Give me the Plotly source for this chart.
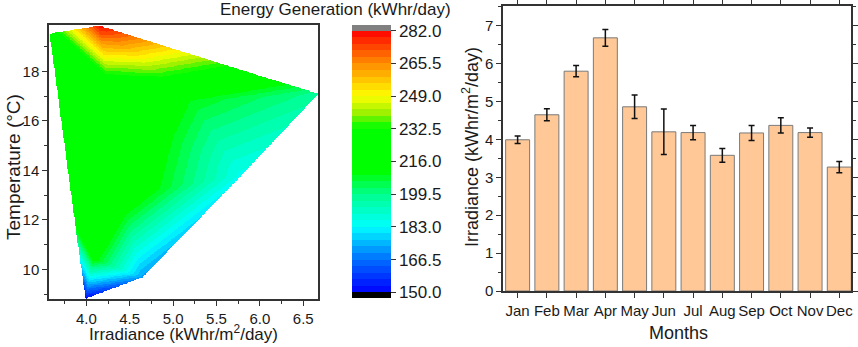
import numpy as np
import plotly.graph_objects as go

# ---------------- data ----------------
months = ["Jan", "Feb", "Mar", "Apr", "May", "Jun", "Jul", "Aug", "Sep", "Oct", "Nov", "Dec"]
irradiance = [3.99, 4.65, 5.80, 6.68, 4.86, 4.20, 4.18, 3.58, 4.17, 4.37, 4.18, 3.27]
irradiance_err = [0.10, 0.16, 0.15, 0.22, 0.31, 0.60, 0.19, 0.18, 0.20, 0.20, 0.12, 0.15]

# scattered points used for the contour (irradiance, temperature, energy)
contour_irr = [3.99, 4.65, 5.78, 6.67, 4.82, 4.23, 4.15, 3.577, 5.21, 4.40, 4.08, 3.865]
contour_temp = [8.83, 9.70, 13.80, 17.10, 15.70, 17.87, 19.85, 19.53, 16.80, 13.00, 10.45, 12.00]
contour_energy = [151, 172, 185, 198, 215, 232, 281, 221, 209, 221, 214, 217]

cbar_ticks = [150.0, 166.5, 183.0, 199.5, 216.0, 232.5, 249.0, 265.5, 282.0]

W, H = 858, 347
FONT = "Liberation Sans, Arial, sans-serif"
TXT = "#1a1a1a"

# ---------------- triangulation (Bowyer-Watson) ----------------
xr = (3.57, 6.67)
yr = (8.80, 19.88)
px = (np.array(contour_irr) - xr[0]) / (xr[1] - xr[0])
py = (np.array(contour_temp) - yr[0]) / (yr[1] - yr[0])
N = len(px)
P = np.vstack([np.column_stack([px, py]), [[-500, -500], [500, -500], [0, 800]]])


def in_circ(t, p):
    a, b, c = P[t[0]], P[t[1]], P[t[2]]
    d = 2 * (a[0] * (b[1] - c[1]) + b[0] * (c[1] - a[1]) + c[0] * (a[1] - b[1]))
    ux = ((a @ a) * (b[1] - c[1]) + (b @ b) * (c[1] - a[1]) + (c @ c) * (a[1] - b[1])) / d
    uy = ((a @ a) * (c[0] - b[0]) + (b @ b) * (a[0] - c[0]) + (c @ c) * (b[0] - a[0])) / d
    return (p[0] - ux) ** 2 + (p[1] - uy) ** 2 < (a[0] - ux) ** 2 + (a[1] - uy) ** 2


tris = [(N, N + 1, N + 2)]
for i in range(N):
    p = P[i]
    bad = [t for t in tris if in_circ(t, p)]
    cnt = {}
    for t in bad:
        for e in ((t[0], t[1]), (t[1], t[2]), (t[2], t[0])):
            k = tuple(sorted(e))
            cnt[k] = cnt.get(k, 0) + 1
    tris = [t for t in tris if t not in bad]
    for e, c in cnt.items():
        if c == 1:
            tris.append((e[0], e[1], i))
tris = [t for t in tris if max(t) < N]

# ---------------- linear interpolation on grid ----------------
nx, ny = 460, 460
gx = np.linspace(xr[0], xr[1], nx)
gy = np.linspace(yr[0], yr[1], ny)
GX, GY = np.meshgrid((gx - xr[0]) / (xr[1] - xr[0]), (gy - yr[0]) / (yr[1] - yr[0]))
Z = np.full(GX.shape, np.nan)
E = np.array(contour_energy, dtype=float)
for t in tris:
    (x1, y1), (x2, y2), (x3, y3) = P[t[0]], P[t[1]], P[t[2]]
    det = (y2 - y3) * (x1 - x3) + (x3 - x2) * (y1 - y3)
    l1 = ((y2 - y3) * (GX - x3) + (x3 - x2) * (GY - y3)) / det
    l2 = ((y3 - y1) * (GX - x3) + (x1 - x3) * (GY - y3)) / det
    l3 = 1 - l1 - l2
    m = (l1 >= -1e-9) & (l2 >= -1e-9) & (l3 >= -1e-9)
    Z[m] = l1[m] * E[t[0]] + l2[m] * E[t[1]] + l3[m] * E[t[2]]

# ---------------- stepped rainbow colour scale ----------------
lo_v, hi_v = 150.0, 282.0
nb = 40
step = (hi_v - lo_v) / nb
zmin, zmax = lo_v - 2.9, hi_v + 2.9
Zq = lo_v + (np.clip(np.floor((Z - lo_v) / step), 0, nb - 1) + 0.5) * step
Zq = np.where(np.isnan(Z), np.nan, Zq)

cv = [150, 166.5, 183, 199.5, 211, 233, 240, 249, 265.5, 282]
cc = [(0, 0, 255), (0, 110, 255), (0, 255, 255), (0, 255, 140), (0, 255, 0),
      (0, 255, 0), (150, 240, 0), (255, 255, 0), (255, 140, 0), (255, 0, 0)]


def col(v):
    r = np.interp(v, cv, [c[0] for c in cc])
    g = np.interp(v, cv, [c[1] for c in cc])
    b = np.interp(v, cv, [c[2] for c in cc])
    return f"rgb({int(round(r))},{int(round(g))},{int(round(b))})"


bounds = [round((lo_v + k * step - zmin) / (zmax - zmin), 8) for k in range(nb + 1)]
cs = [[0.0, "rgb(0,0,0)"], [bounds[0], "rgb(0,0,0)"]]
for k in range(nb):
    c = col(lo_v + (k + 0.5) * step)
    cs += [[bounds[k], c], [bounds[k + 1], c]]
cs += [[bounds[-1], "rgb(128,128,128)"], [1.0, "rgb(128,128,128)"]]

# ---------------- figure ----------------
fig = go.Figure()


def dom_x(a, b):
    return [a / W, b / W]


def dom_y(top, bot):
    return [1 - bot / H, 1 - top / H]


fig.add_trace(go.Heatmap(
    x=gx, y=gy, z=Zq, colorscale=cs, zmin=zmin, zmax=zmax,
    xaxis="x", yaxis="y", hoverongaps=False,
    colorbar=dict(
        x=352 / W, xanchor="left", xpad=0, ypad=0,
        y=1 - (25 + 298) / 2 / H, yanchor="middle",
        len=273, lenmode="pixels", thickness=39, thicknessmode="pixels",
        outlinewidth=0,
        tickvals=cbar_ticks, ticktext=[f"{v:.1f}" for v in cbar_ticks],
        ticks="outside", ticklen=5, tickcolor="#333",
        tickfont=dict(family=FONT, size=17, color=TXT),
    ),
))

fig.add_trace(go.Bar(
    x=months, y=irradiance, xaxis="x2", yaxis="y2",
    marker=dict(color="#FFC896", line=dict(color="#7a7a7a", width=1)),
    width=0.82,
    error_y=dict(type="data", array=irradiance_err, color="#111", thickness=1.5, width=3),
))

axis_common = dict(
    showline=True, linecolor="#333", linewidth=1.5, ticks="outside", ticklen=5,
    tickcolor="#333", tickwidth=1.2, showgrid=False, zeroline=False, automargin=False,
    tickfont=dict(family=FONT, size=15, color=TXT),
)

fig.update_layout(
    width=W, height=H, margin=dict(l=0, r=0, t=0, b=0, autoexpand=False),
    paper_bgcolor="white", plot_bgcolor="white", showlegend=False,
    font=dict(family=FONT, color=TXT),
    xaxis=dict(domain=dom_x(49, 318), range=list(xr), anchor="y", mirror=True,
               tickvals=[4.0, 4.5, 5.0, 5.5, 6.0, 6.5], tickformat=".1f",
               minor=dict(dtick=0.25, tick0=3.5, ticklen=3, ticks="outside", tickcolor="#333"),
               **axis_common),
    yaxis=dict(domain=dom_y(25, 299), range=list(yr), anchor="x", mirror=True,
               tickvals=[10, 12, 14, 16, 18],
               minor=dict(dtick=1, ticklen=3, ticks="outside", tickcolor="#333"),
               **axis_common),
    xaxis2=dict(domain=dom_x(503, 851), range=[-0.5, 11.4], anchor="y2", mirror="ticks",
                type="category", **axis_common),
    yaxis2=dict(domain=dom_y(6, 291), range=[0, 7.52], anchor="x2", mirror="ticks",
                dtick=1, minor=dict(dtick=0.5, ticklen=3, ticks="outside", tickcolor="#333"),
                **axis_common),
    annotations=[
        dict(text="Energy Generation (kWhr/day)", x=335 / W, y=1 - 9 / H, xref="paper", yref="paper",
             showarrow=False, font=dict(family=FONT, size=17, color=TXT), xanchor="center", yanchor="middle"),
        dict(text="Irradiance (kWhr/m<sup>2</sup>/day)", x=183 / W, y=1 - 333 / H, xref="paper", yref="paper",
             showarrow=False, font=dict(family=FONT, size=17, color=TXT), xanchor="center", yanchor="middle"),
        dict(text="Temperature (°C)", x=13 / W, y=1 - 167 / H, xref="paper", yref="paper", textangle=-90,
             showarrow=False, font=dict(family=FONT, size=19, color=TXT), xanchor="center", yanchor="middle"),
        dict(text="Irradiance (kWhr/m<sup>2</sup>/day)", x=470 / W, y=1 - 147 / H, xref="paper", yref="paper",
             textangle=-90, showarrow=False, font=dict(family=FONT, size=18, color=TXT),
             xanchor="center", yanchor="middle"),
        dict(text="Months", x=678 / W, y=1 - 333 / H, xref="paper", yref="paper",
             showarrow=False, font=dict(family=FONT, size=18, color=TXT), xanchor="center", yanchor="middle"),
    ],
)

fig.write_html("out.html", config={"displayModeBar": False},
               post_script="document.body.style.margin='0';document.body.style.overflow='hidden';")
